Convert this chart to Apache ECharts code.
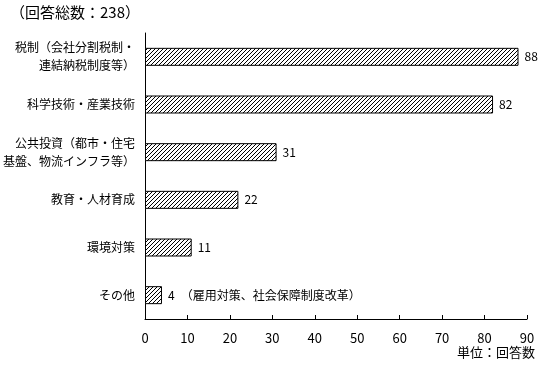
<!DOCTYPE html>
<html><head><meta charset="utf-8">
<script src="https://cdn.jsdelivr.net/npm/echarts@6/dist/echarts.min.js"></script>
<style>html,body{margin:0;padding:0;background:#fff}#c{width:550px;height:370px}</style>
</head><body><div id="c"></div>
<script>
const categories = ['税制（会社分割税制・\n連結納税制度等）','科学技術・産業技術','公共投資（都市・住宅\n基盤、物流インフラ等）','教育・人材育成','環境対策','その他'];
const values = [88, 82, 31, 22, 11, 4];
const extraNotes = ['', '', '', '', '', '（雇用対策、社会保障制度改革）'];
const xTicks = [0,10,20,30,40,50,60,70,80,90];

const pc = document.createElement('canvas');
pc.width = 4; pc.height = 4;
const g = pc.getContext('2d');
g.fillStyle = '#fff'; g.fillRect(0,0,4,4);
g.fillStyle = '#000';
for (let i=0;i<4;i++){ g.fillRect(3-i, i, 1, 1); }

const font = '"Noto Sans CJK JP", sans-serif';
const chart = echarts.init(document.getElementById('c'));
chart.setOption({
  animation:false,
  textStyle:{fontFamily:font},
  graphic:[
    {type:'text', left:10, top:5, style:{text:'（回答総数：238）', font:'15px '+font, fill:'#000'}},
    {type:'text', right:15, top:346, style:{text:'単位：回答数', font:'13px '+font, fill:'#000'}}
  ],
  grid:{left:145, right:23, top:33, bottom:51},
  xAxis:{type:'value', min:0, max:90, interval:10,
    axisLine:{show:true, lineStyle:{color:'#000'}},
    axisTick:{show:true, inside:true, length:4, lineStyle:{color:'#000'}},
    splitLine:{show:false},
    axisLabel:{color:'#000', fontSize:13, margin:13, fontFamily:font,
      formatter:v=>xTicks.includes(v)?String(v):''}},
  yAxis:{type:'category', data:categories, inverse:true,
    axisLine:{show:true, lineStyle:{color:'#000'}},
    axisTick:{show:false},
    axisLabel:{color:'#000', fontSize:12, margin:10, lineHeight:18, fontFamily:font}},
  series:[{type:'bar', barWidth:18,
    data:values.map((v,i)=>({value:v, note:extraNotes[i]})),
    itemStyle:{color:{image:pc, repeat:'repeat'}, borderColor:'#000', borderWidth:1},
    label:{show:true, position:'right', distance:6, color:'#000', fontSize:12, fontFamily:font,
      formatter:p=>p.data.note? p.value+'　'+p.data.note : String(p.value)}
  }]
});
</script></body></html>
